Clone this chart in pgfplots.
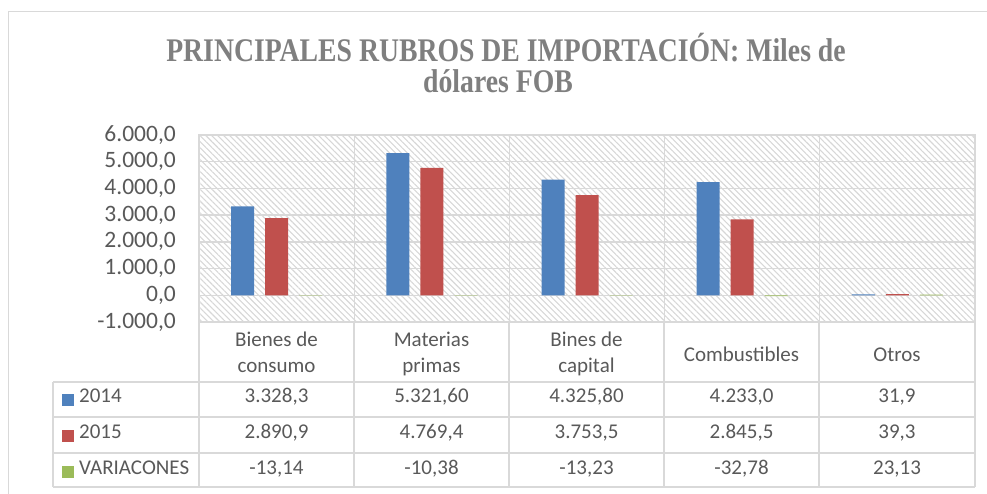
\documentclass[border=0pt]{standalone}
\usepackage{fontspec}
\usepackage{pgfplots}
\pgfplotsset{compat=1.18}
\usetikzlibrary{patterns.meta}
\setmainfont{Carlito}
\newfontfamily\titlefont{Liberation Serif}
\definecolor{c14}{RGB}{79,129,189}
\definecolor{c15}{RGB}{192,80,77}
\definecolor{cvar}{RGB}{155,187,89}
\definecolor{gridgray}{RGB}{217,217,217}
\definecolor{hatch}{RGB}{215,215,215}
\definecolor{txt}{RGB}{89,89,89}
\definecolor{ttl}{RGB}{127,127,127}
\begin{document}
\begin{tikzpicture}[x=1pt,y=1pt]
\useasboundingbox (0,0) rectangle (987,494);
% chart border
\draw[gridgray, line width=1pt] (8,0) -- (8,482) -- (987,482);
% title
\node[anchor=base, text=ttl, inner sep=0pt] at (506,432) {\scalebox{0.84}[1]{\titlefont\bfseries\fontsize{33}{33}\selectfont PRINCIPALES RUBROS DE IMPORTACIÓN: Miles de}};
\node[anchor=base, text=ttl, inner sep=0pt] at (498,401) {\scalebox{0.84}[1]{\titlefont\bfseries\fontsize{33}{33}\selectfont dólares FOB}};
\begin{axis}[
  at={(199pt,172pt)}, anchor=south west,
  scale only axis, width=776pt, height=187pt,
  xmin=-0.5, xmax=4.5, ymin=-1000, ymax=6000,
  ybar=11pt, bar width=23pt,
  xtick={0.5,1.5,2.5,3.5}, xticklabels={},
  ytick={-1000,0,1000,2000,3000,4000,5000,6000},
  yticklabels={{-1.000,0},{0,0},{1.000,0},{2.000,0},{3.000,0},{4.000,0},{5.000,0},{6.000,0}},
  yticklabel style={font=\fontsize{23.5}{24}\selectfont, text=txt, inner sep=0pt, xshift=-23pt},
  major tick length=0pt,
  xmajorgrids, ymajorgrids,
  grid style={draw=gridgray, line width=1.3pt},
  axis line style={draw=gridgray, line width=1.3pt},
  axis background/.style={pattern={Lines[angle=-45,distance=4.2pt,line width=1.1pt]}, pattern color=hatch},
]
\addplot[fill=c14, draw=none] coordinates {(0,3328.3) (1,5321.6) (2,4325.8) (3,4233.0) (4,31.9)};
\addplot[fill=c15, draw=none] coordinates {(0,2890.9) (1,4769.4) (2,3753.5) (3,2845.5) (4,39.3)};
\addplot[fill=cvar, draw=none] coordinates {(0,-13.14) (1,-10.38) (2,-13.23) (3,-32.78) (4,23.13)};
\end{axis}
% data table
\begin{scope}[gridgray, line width=1.3pt]
\foreach \x in {199,354,509,664,819,975} {\draw (\x,172) -- (\x,7);}
\draw (53,112) -- (53,7);
\foreach \y in {112,77,41,7} {\draw (53,\y) -- (975,\y);}
\end{scope}
\begin{scope}[every node/.style={anchor=base, inner sep=0pt, text=txt, font=\fontsize{21}{21}\selectfont}]
\node at (276.5,147) {Bienes de};
\node at (276.5,121) {consumo};
\node at (431.5,147) {Materias};
\node at (431.5,121) {primas};
\node at (586.5,147) {Bines de};
\node at (586.5,121) {capital};
\node at (741.5,132) {Combustibles};
\node at (897,132) {Otros};
% rows
\node at (276.5,91) {3.328,3};
\node at (431.5,91) {5.321,60};
\node at (586.5,91) {4.325,80};
\node at (741.5,91) {4.233,0};
\node at (897,91) {31,9};
\node at (276.5,55) {2.890,9};
\node at (431.5,55) {4.769,4};
\node at (586.5,55) {3.753,5};
\node at (741.5,55) {2.845,5};
\node at (897,55) {39,3};
\node at (276.5,19) {-13,14};
\node at (431.5,19) {-10,38};
\node at (586.5,19) {-13,23};
\node at (741.5,19) {-32,78};
\node at (897,19) {23,13};
% legend labels
\node[anchor=base west] at (79,91) {2014};
\node[anchor=base west] at (79,55) {2015};
\node[anchor=base west] at (79,19) {VARIACONES};
\end{scope}
\fill[c14] (62,88) rectangle (74,100);
\fill[c15] (62,52) rectangle (74,64);
\fill[cvar] (62,16) rectangle (74,28);
\end{tikzpicture}
\end{document}
